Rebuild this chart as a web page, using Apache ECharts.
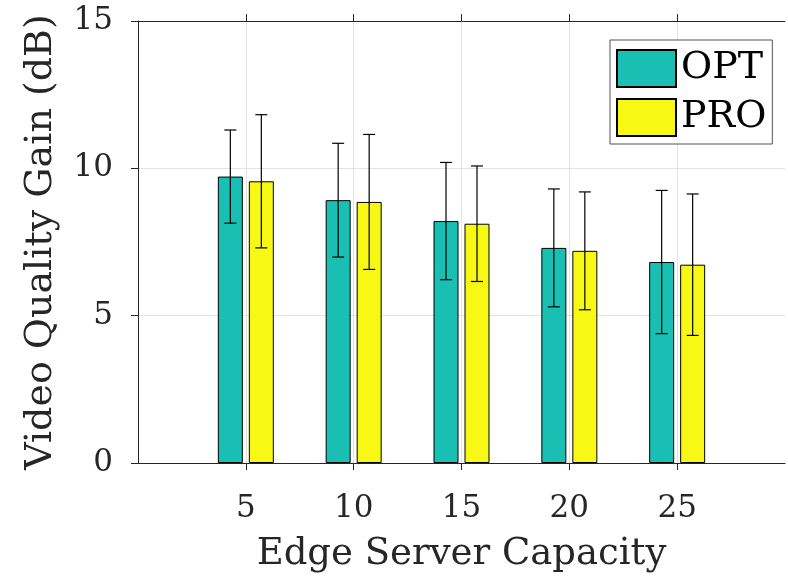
<!DOCTYPE html>
<html><head><meta charset="utf-8">
<script src="https://cdn.jsdelivr.net/npm/echarts@6/dist/echarts.min.js"></script>
<style>html,body{margin:0;padding:0;background:#fff}#c{width:788px;height:582px}</style>
</head><body><div id="c"></div>
<script>
const categories = ['', '5', '10', '15', '20', '25', ''];
const optMean = [null, 9.72, 8.92, 8.21, 7.30, 6.82, null];
const optErr  = [null, 1.58, 1.93, 1.99, 2.00, 2.43, null];
const proMean = [null, 9.56, 8.86, 8.12, 7.20, 6.73, null];
const proErr  = [null, 2.26, 2.29, 1.96, 2.00, 2.40, null];
const yTicks = [0, 5, 10, 15];

const FONT = 'DejaVu Serif';
const TXT = '#262626';
const BAR_W = 25, BAR_GAP = 6;
const OFFSET = (BAR_W + BAR_GAP) / 2;

function errSeries(name, means, errs, dir) {
  return {
    type: 'custom', name: name + '_err', z: 5, silent: true,
    data: means.map((m, i) => m == null ? null : [i, m, errs[i]]).filter(d => d),
    renderItem: function (params, api) {
      const i = api.value(0), m = api.value(1), e = api.value(2);
      const top = api.coord([i, m + e]);
      const bot = api.coord([i, m - e]);
      const x = top[0] + dir * OFFSET;
      const cw = 6;
      const st = { stroke: '#000', lineWidth: 1.2 };
      return { type: 'group', children: [
        { type: 'line', shape: { x1: x, y1: top[1], x2: x, y2: bot[1] }, style: st },
        { type: 'line', shape: { x1: x - cw, y1: top[1], x2: x + cw, y2: top[1] }, style: st },
        { type: 'line', shape: { x1: x - cw, y1: bot[1], x2: x + cw, y2: bot[1] }, style: st }
      ]};
    }
  };
}

const tickShow = (idx) => idx > 0 && idx < categories.length - 1;
const chart = echarts.init(document.getElementById('c'), null, { renderer: 'canvas' });
chart.setOption({
  animation: false,
  backgroundColor: '#fff',
  grid: { left: 138, right: -2, top: 21, bottom: 119, containLabel: false },
  legend: {
    orient: 'vertical', left: 610, top: 40,
    padding: [9, 6, 7, 6], itemGap: 10, itemWidth: 59, itemHeight: 37,
    backgroundColor: '#fff', borderColor: '#555', borderWidth: 1,
    textStyle: { fontFamily: FONT, fontSize: 38, color: '#000', lineHeight: 37, padding: [0, 0, 0, 0] },
    data: [{ name: 'OPT', icon: 'rect' }, { name: 'PRO', icon: 'rect' }]
  },
  xAxis: [{
    type: 'category', data: categories, boundaryGap: false,
    axisLine: { show: true, lineStyle: { color: TXT, width: 1 } },
    axisTick: { show: true, inside: false, length: 7, interval: tickShow, lineStyle: { color: TXT } },
    axisLabel: { fontFamily: FONT, fontSize: 31, color: TXT, margin: 30, interval: 0 },
    splitLine: { show: true, interval: tickShow, lineStyle: { color: '#e3e3e3', width: 1 } },
    name: 'Edge Server Capacity', nameLocation: 'middle', nameGap: 73,
    nameTextStyle: { fontFamily: FONT, fontSize: 37, color: TXT }
  }, {
    type: 'category', data: categories, boundaryGap: false, position: 'top',
    axisLine: { show: true, lineStyle: { color: TXT, width: 1 } },
    axisTick: { show: true, inside: false, length: 7, interval: tickShow, lineStyle: { color: TXT } },
    axisLabel: { show: false }, splitLine: { show: false }
  }],
  yAxis: [{
    type: 'value', min: yTicks[0], max: yTicks[yTicks.length - 1], interval: 5,
    axisLine: { show: true, lineStyle: { color: TXT, width: 1 } },
    axisTick: { show: true, inside: false, length: 7, lineStyle: { color: TXT } },
    axisLabel: { fontFamily: FONT, fontSize: 31, color: TXT, margin: 25 },
    splitLine: { show: true, lineStyle: { color: '#e3e3e3', width: 1 } },
    name: 'Video Quality Gain (dB)', nameLocation: 'middle', nameGap: 78,
    nameTextStyle: { fontFamily: FONT, fontSize: 38, color: TXT }
  }],
  series: [
    { name: 'OPT', type: 'bar', data: optMean, barWidth: BAR_W, barGap: (BAR_GAP / BAR_W * 100) + '%',
      itemStyle: { color: '#1abfb3', borderColor: '#000', borderWidth: 1 } },
    { name: 'PRO', type: 'bar', data: proMean, barWidth: BAR_W, barGap: (BAR_GAP / BAR_W * 100) + '%',
      itemStyle: { color: '#f8f815', borderColor: '#000', borderWidth: 1 } },
    errSeries('OPT', optMean, optErr, -1),
    errSeries('PRO', proMean, proErr, 1)
  ]
});
</script></body></html>
